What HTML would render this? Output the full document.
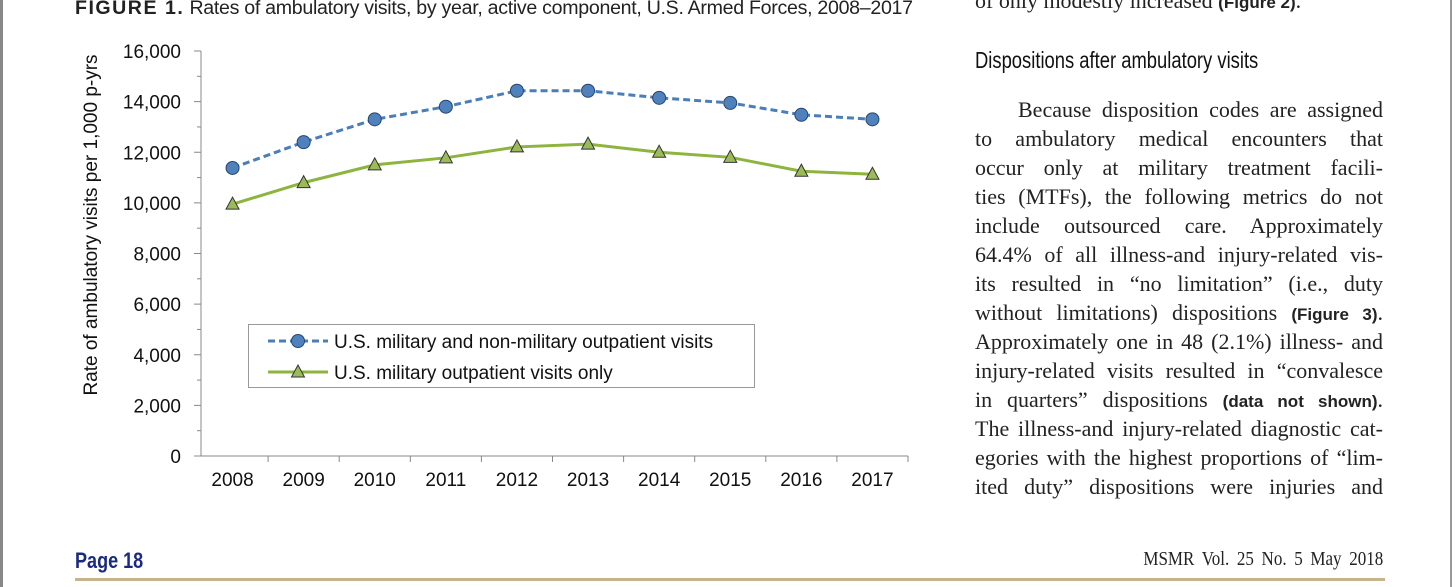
<!DOCTYPE html>
<html><head><meta charset="utf-8"><style>
body{margin:0;width:1456px;height:587px;background:#fff;position:relative;overflow:hidden;font-family:"Liberation Sans",sans-serif}
.bl{position:absolute;left:0;top:0;width:3px;height:587px;background:#888}
.br{position:absolute;right:4px;top:0;width:2px;height:587px;background:#999}
.title{position:absolute;left:75px;top:-3px;font-size:19.6px;color:#222;white-space:nowrap;letter-spacing:-0.3px}
.title b{letter-spacing:1.5px}
.txt{position:absolute;left:975px;width:408px;font-family:"Liberation Serif",serif;font-size:22px;line-height:29px;color:#222}
.txt div{white-space:nowrap;text-align:justify;text-align-last:justify;height:29px}
.txt b{font-family:"Liberation Sans",sans-serif;font-size:17px}
.h{position:absolute;left:975px;top:47px;font-size:23px;color:#111;font-family:"Liberation Sans Narrow","Liberation Sans",sans-serif;transform:scaleX(.8);transform-origin:left;white-space:nowrap}
.f1{position:absolute;left:75px;top:548px;font-size:22px;font-weight:bold;color:#1a2a80;transform:scaleX(.82);transform-origin:left}
.f2{position:absolute;right:73px;top:548px;font-size:20px;color:#222;font-family:"Liberation Serif",serif;transform:scaleX(.85);transform-origin:right;word-spacing:4px;white-space:nowrap}
.rule{position:absolute;left:75px;top:578px;width:1310px;height:3px;background:#c8b48a}
</style></head><body>
<div class="bl"></div>
<div class="br"></div>
<div class="title"><b>FIGURE 1.</b> Rates of ambulatory visits, by year, active component, U.S. Armed Forces, 2008–2017</div>
<div class="txt" style="top:-14px"><div style="text-align-last:left">of only modestly increased <b>(Figure 2)</b>.</div></div>
<div class="h">Dispositions after ambulatory visits</div>
<div class="txt" style="top:95px">
<div style="padding-left:43px">Because disposition codes are assigned</div>
<div>to ambulatory medical encounters that</div>
<div>occur only at military treatment facili-</div>
<div>ties (MTFs), the following metrics do not</div>
<div>include outsourced care. Approximately</div>
<div>64.4% of all illness-and injury-related vis-</div>
<div>its resulted in “no limitation” (i.e., duty</div>
<div>without limitations) dispositions <b>(Figure 3)</b>.</div>
<div>Approximately one in 48 (2.1%) illness- and</div>
<div>injury-related visits resulted in “convalesce</div>
<div>in quarters” dispositions <b>(data not shown)</b>.</div>
<div>The illness-and injury-related diagnostic cat-</div>
<div>egories with the highest proportions of “lim-</div>
<div>ited duty” dispositions were injuries and</div>
</div>
<div class="f1">Page 18</div>
<div class="f2">MSMR Vol. 25 No. 5 May 2018</div>
<div class="rule"></div>
<svg id="chart" width="960" height="520" style="position:absolute;left:0;top:0"></svg>
<script>
const years=["2008","2009","2010","2011","2012","2013","2014","2015","2016","2017"];
const allVisits=[11380,12400,13300,13800,14430,14430,14150,13950,13480,13300];
const milVisits=[9950,10800,11500,11780,12210,12320,12000,11800,11250,11130];
const yTicks=[0,2000,4000,6000,8000,10000,12000,14000,16000];
const NS="http://www.w3.org/2000/svg";
const svg=document.getElementById('chart');
const x0=197,band=71.1,yb=456,yt=51,ymax=16000;
const X=i=>x0+band*(i+0.5);
const Y=v=>yb-(v/ymax)*(yb-yt);
function mk(t,a,txt){const e=document.createElementNS(NS,t);for(const k in a)e.setAttribute(k,a[k]);if(txt!==undefined)e.textContent=txt;svg.appendChild(e);return e;}
let e;
e=mk('line',{x1:201,y1:Y(ymax),x2:201,y2:yb,stroke:'#888','stroke-width':1});


e=mk('line',{x1:201,y1:yb,x2:x0+band*years.length,y2:yb,stroke:'#888','stroke-width':1});


for(let v=0;v<=ymax;v+=1000){mk('line',{x1:v%2000?197:194,y1:Y(v),x2:201,y2:Y(v),stroke:'#888'});}
yTicks.forEach(v=>{e=mk('text',{x:181,y:Y(v)+7,'text-anchor':'end','font-size':19,fill:'#111'},v.toLocaleString('en-US'));

});
years.forEach((yr,i)=>{mk('line',{x1:x0+band*(i+1),y1:yb,x2:x0+band*(i+1),y2:yb+6,stroke:'#888'});
e=mk('text',{x:X(i),y:486,'text-anchor':'middle','font-size':19,fill:'#111'},yr);

});
e=mk('text',{x:0,y:0,transform:'translate(97,225) rotate(-90)','text-anchor':'middle','font-size':19,fill:'#111'},'Rate of ambulatory visits per 1,000 p-yrs');


e=mk('polyline',{points:allVisits.map((v,i)=>X(i)+','+Y(v)).join(' '),fill:'none',stroke:'#4a7ebb','stroke-width':3,'stroke-dasharray':'7 4'});


allVisits.forEach((v,i)=>{e=mk('circle',{cx:X(i),cy:Y(v),r:6.5,fill:'#4f81bd',stroke:'#27466f','stroke-width':1});

});
e=mk('polyline',{points:milVisits.map((v,i)=>X(i)+','+Y(v)).join(' '),fill:'none',stroke:'#8db43e','stroke-width':3});


const tri=(cx,cy)=>`${cx},${cy-7} ${cx-6.5},${cy+5} ${cx+6.5},${cy+5}`;
milVisits.forEach((v,i)=>{e=mk('polygon',{points:tri(X(i),Y(v)),fill:'#9bbb59',stroke:'#333','stroke-width':1});

});
e=mk('rect',{x:248.5,y:324.5,width:506,height:63,fill:'#fff',stroke:'#999'});


mk('line',{x1:268,y1:341,x2:328,y2:341,stroke:'#4a7ebb','stroke-width':3,'stroke-dasharray':'7 4'});
mk('circle',{cx:298,cy:341,r:6.5,fill:'#4f81bd',stroke:'#27466f'});
e=mk('text',{x:334,y:348,'font-size':19,fill:'#111'},'U.S. military and non-military outpatient visits');


mk('line',{x1:268,y1:372,x2:328,y2:372,stroke:'#8db43e','stroke-width':3});
mk('polygon',{points:tri(298,372),fill:'#9bbb59',stroke:'#333'});
e=mk('text',{x:334,y:379,'font-size':19,fill:'#111'},'U.S. military outpatient visits only');


</script>
</body></html>
